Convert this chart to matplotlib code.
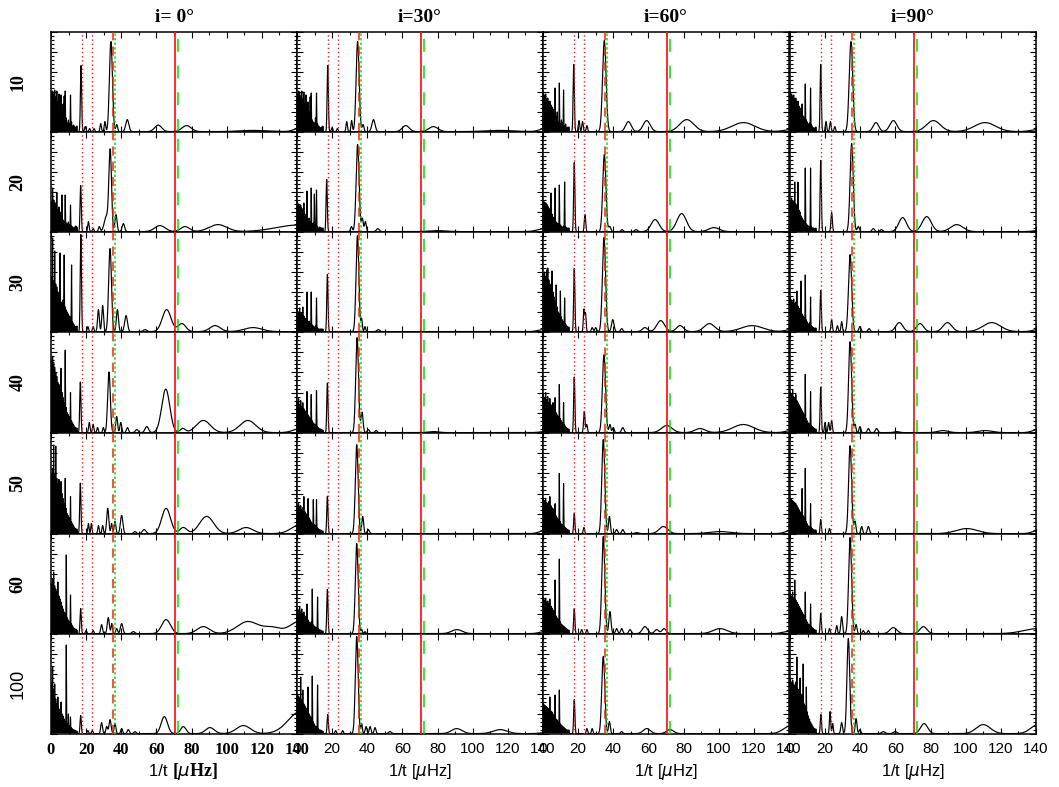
import numpy as np
import matplotlib
matplotlib.use('Agg')
import matplotlib.pyplot as plt
from matplotlib.ticker import MultipleLocator

# ---------------- data ----------------
col_titles = ['i= 0°', 'i=30°', 'i=60°', 'i=90°']
row_labels = ['10', '20', '30', '40', '50', '60', '100']
xtick_vals = [0, 20, 40, 60, 80, 100, 120, 140]
xlabel_text = '1/t'

# reference frequencies (μHz)
red_dotted = [17.7, 23.5]
red_dashed = 35.4
green_dotted = 36.3
red_solid = 70.5
green_dashed = 72.3

# low-frequency forest: spike heights (percent of panel) at these frequencies
forest_x = [0.3, 0.9, 1.5, 2.1, 2.7, 3.3, 3.9, 4.5, 5.1, 5.7, 6.3, 6.9, 7.5,
            8.1, 8.7, 9.3, 9.9, 10.5, 11.1, 11.7, 12.3, 12.9, 13.5, 14.1, 14.7]

forest_r10 = [
    [40, 41, 38, 42, 35, 41, 30, 38, 26, 37, 22, 28, 36, 41, 14, 9, 12, 8, 37, 10, 6, 7, 5, 5, 6],
    [38, 41, 40, 36, 41, 33, 40, 28, 37, 24, 30, 20, 35, 39, 12, 10, 9, 14, 39, 8, 6, 5, 4, 5, 6],
    [40, 37, 38, 33, 34, 30, 31, 27, 25, 23, 18, 44, 15, 20, 10, 49, 8, 12, 9, 42, 6, 8, 4, 5, 5],
    [40, 38, 36, 37, 33, 34, 30, 31, 26, 24, 22, 28, 16, 14, 48, 12, 10, 8, 9, 44, 7, 5, 4, 4, 5],
]
forest_r20 = [
    [30, 44, 32, 30, 28, 39, 22, 25, 20, 18, 37, 12, 10, 37, 9, 8, 10, 7, 27, 6, 5, 4, 5, 6, 5],
    [30, 28, 26, 27, 24, 22, 29, 18, 15, 41, 12, 14, 10, 44, 8, 9, 38, 7, 42, 5, 4, 5, 4, 4, 4],
    [31, 30, 29, 28, 26, 24, 22, 39, 18, 15, 13, 44, 10, 9, 8, 47, 7, 6, 5, 6, 50, 5, 4, 4, 4],
    [30, 34, 31, 30, 50, 28, 26, 50, 22, 20, 16, 14, 12, 10, 64, 8, 7, 6, 5, 64, 5, 4, 4, 3, 4],
]
forest_r30 = [
    [55, 94, 50, 81, 48, 45, 40, 38, 79, 30, 28, 32, 77, 25, 22, 20, 18, 16, 15, 67, 10, 8, 6, 5, 6],
    [22, 20, 24, 18, 19, 25, 16, 14, 12, 40, 10, 11, 8, 40, 7, 6, 5, 6, 34, 4, 3, 3, 3, 3, 3],
    [58, 60, 55, 62, 64, 52, 48, 45, 61, 40, 35, 30, 47, 25, 20, 18, 41, 15, 12, 10, 34, 8, 6, 5, 5],
    [34, 32, 30, 33, 28, 30, 41, 26, 24, 22, 51, 18, 16, 14, 57, 12, 10, 8, 9, 35, 6, 5, 4, 4, 4],
]
forest_r40 = [
    [72, 76, 70, 65, 60, 56, 50, 48, 45, 64, 40, 35, 30, 82, 25, 20, 18, 16, 40, 12, 10, 8, 6, 5, 5],
    [30, 34, 28, 32, 26, 30, 24, 22, 20, 41, 18, 16, 14, 38, 12, 10, 9, 8, 42, 6, 5, 4, 4, 3, 3],
    [38, 35, 40, 33, 36, 30, 34, 28, 26, 30, 24, 35, 20, 18, 16, 48, 14, 12, 10, 30, 8, 6, 5, 4, 4],
    [40, 38, 42, 36, 35, 38, 32, 30, 28, 26, 24, 22, 20, 18, 58, 14, 12, 10, 9, 41, 7, 6, 5, 4, 4],
]
forest_r50 = [
    [60, 65, 88, 60, 87, 55, 50, 54, 45, 52, 40, 35, 30, 55, 25, 20, 18, 16, 37, 12, 10, 8, 6, 5, 5],
    [28, 30, 26, 28, 24, 26, 37, 22, 20, 18, 35, 16, 14, 12, 10, 34, 9, 8, 34, 6, 5, 4, 4, 3, 3],
    [35, 33, 34, 31, 30, 32, 37, 28, 26, 25, 22, 30, 18, 16, 14, 60, 12, 10, 9, 50, 7, 6, 5, 4, 4],
    [35, 34, 33, 32, 31, 30, 28, 26, 24, 22, 20, 45, 18, 16, 65, 12, 10, 8, 7, 30, 6, 5, 4, 4, 4],
]
forest_r60 = [
    [50, 55, 62, 48, 45, 42, 52, 38, 35, 32, 28, 25, 22, 20, 79, 16, 14, 12, 39, 10, 8, 6, 5, 5, 4],
    [26, 24, 27, 22, 25, 20, 22, 18, 16, 30, 14, 12, 10, 12, 45, 9, 8, 7, 6, 37, 5, 4, 4, 3, 3],
    [36, 34, 35, 32, 33, 30, 35, 28, 26, 24, 22, 54, 18, 16, 14, 75, 12, 10, 9, 8, 7, 6, 5, 4, 4],
    [40, 38, 42, 36, 54, 34, 32, 30, 28, 26, 24, 22, 20, 18, 42, 14, 12, 10, 9, 30, 7, 6, 5, 4, 4],
]
forest_r100 = [
    [50, 67, 45, 50, 35, 30, 37, 25, 22, 32, 20, 18, 15, 12, 89, 10, 20, 8, 17, 6, 5, 4, 4, 3, 3],
    [40, 38, 36, 57, 34, 44, 30, 28, 26, 24, 47, 20, 18, 16, 58, 12, 10, 8, 7, 49, 5, 4, 4, 3, 3],
    [30, 29, 28, 27, 26, 25, 37, 23, 22, 20, 18, 39, 15, 14, 12, 44, 10, 9, 8, 7, 6, 5, 4, 4, 4],
    [55, 52, 54, 50, 48, 52, 77, 45, 42, 56, 40, 38, 70, 30, 28, 47, 22, 18, 15, 12, 10, 8, 6, 5, 5],
]

# resolved peaks: (frequency, height as fraction of panel, width)
peaks_r10 = [
    [(17.1, .66, .35), (19.5, .05, .4), (22, .03, .4), (24.5, .03, .4), (28.3, .08, .4), (30.7, .10, .4),
     (34.1, .90, .85), (37.4, .07, .5), (43.4, .12, .9), (61.0, .065, 2.0), (77.2, .06, 2.6), (115, .012, 8), (141, .03, 3)],
    [(17.5, .66, .35), (20, .04, .4), (23, .03, .4), (28.3, .10, .4), (31.1, .11, .4), (34.5, .90, .85),
     (37.6, .07, .5), (43.5, .12, .9), (61.9, .06, 2.0), (77.6, .05, 2.6), (115, .012, 8), (141, .03, 3)],
    [(17.5, .67, .35), (20.5, .11, .4), (22.5, .10, .4), (25, .06, .4), (34.9, .91, 1.0), (48.6, .10, 1.6),
     (59.0, .11, 2.0), (81.8, .12, 4.0), (114, .09, 6.5), (141, .02, 4)],
    [(17.5, .67, .35), (20.5, .10, .4), (23, .10, .4), (25.5, .05, .4), (34.7, .90, 1.0), (48.9, .09, 1.6),
     (58.8, .11, 2.0), (81.6, .11, 4.0), (111, .09, 6.0), (141, .02, 4)],
]
peaks_r20 = [
    [(16.9, .46, .35), (21.3, .10, .4), (24.0, .03, .4), (27.5, .05, .5), (31.5, .15, 1.2), (33.7, .80, .75),
     (37.0, .17, .6), (41.2, .08, .7), (62, .06, 3), (76.3, .05, 2.5), (95, .07, 5), (140, .065, 12)],
    [(16.9, .52, .35), (31, .05, .5), (34.5, .87, .85), (37.2, .13, .5), (38.9, .10, .5), (46, .03, .8),
     (80, .01, 5), (141, .03, 4)],
    [(17.8, .69, .35), (23.9, .17, .4), (34.9, .77, .9), (38, .05, .6), (45, .02, .6), (53, .02, .8),
     (63.8, .12, 2.3), (78.9, .18, 2.7), (97.3, .04, 3)],
    [(17.5, .71, .35), (23.7, .19, .4), (35.1, .88, .9), (38.9, .05, .6), (47.4, .03, .7), (52, .02, .7),
     (64.1, .14, 2.2), (77.8, .15, 2.6), (94.9, .07, 3.5), (141, .01, 3)],
]
peaks_r30 = [
    [(17.0, .97, .35), (21, .05, .4), (24, .05, .4), (27, .22, .5), (29.4, .26, .5), (33.6, .83, .8),
     (37.8, .22, .6), (42.7, .16, .8), (53.5, .02, 1), (65.8, .22, 2.5), (74.5, .08, 2.2), (93.4, .06, 3), (115, .04, 5)],
    [(17.3, .57, .35), (34.4, .96, .8), (36.8, .12, .4), (38.7, .05, .4), (46.3, .02, .8), (140, .02, 3)],
    [(17.8, .63, .35), (23.3, .22, .35), (24.2, .18, .35), (28, .04, .5), (30, .04, .5), (34.7, .94, .9),
     (39.7, .12, .7), (44.8, .03, .6), (58, .04, 1.5), (67, .11, 2.2), (78, .06, 2), (94.7, .08, 3), (119, .06, 6), (141, .02, 3)],
    [(17.5, .41, .35), (23.7, .12, .4), (27, .06, .4), (29.4, .10, .4), (34.2, .77, .9), (39.8, .05, .6),
     (45, .03, .6), (62.2, .09, 2.0), (74, .08, 2.0), (89.6, .09, 2.5), (114.8, .09, 5), (141, .02, 3)],
]
peaks_r40 = [
    [(16.7, .50, .35), (21.8, .10, .4), (24, .08, .4), (26.5, .05, .4), (29.8, .05, .4), (33.0, .60, .75),
     (37.4, .16, .5), (39.7, .10, .5), (43.5, .05, .6), (48.8, .03, .8), (54.5, .06, 1.0), (65.3, .43, 2.3),
     (75, .04, 1.5), (86.7, .12, 4), (112, .12, 4.5), (142, .04, 4)],
    [(17.3, .49, .35), (34.2, .94, .8), (37.0, .20, .6), (40.6, .03, .6), (45, .02, .6), (77.6, .01, 3), (141, .01, 3)],
    [(17.8, .55, .35), (23.5, .21, .4), (24.9, .08, .4), (34.7, .77, .9), (38.1, .08, .5), (40, .05, .5),
     (45.4, .05, .7), (70.4, .07, 3), (89.4, .04, 3), (114, .08, 6), (141, .02, 3)],
    [(17.5, .45, .35), (20, .10, .4), (22, .10, .4), (23.7, .12, .4), (34.2, .90, .85), (37, .08, .5),
     (39.8, .06, .5), (44.6, .04, .6), (49.3, .04, .7), (60.7, .01, 1.5), (87, .02, 3), (111, .02, 4), (141, .03, 3)],
]
peaks_r50 = [
    [(16.7, .50, .35), (21.3, .10, .35), (23, .10, .35), (27, .08, .4), (29.4, .08, .4), (32.3, .25, .6),
     (34.5, .10, .4), (36.4, .12, .5), (40.2, .18, .7), (47.8, .02, .7), (53, .04, 1), (65.5, .25, 2.5),
     (75.3, .06, 2), (88.6, .17, 4), (111, .06, 4), (142, .09, 5)],
    [(17.3, .37, .35), (34.0, .88, .8), (37.4, .17, .5), (40.6, .04, .6), (141, .03, 3)],
    [(17.8, .20, .35), (23.3, .06, .4), (34.3, .93, .85), (37.8, .17, .5), (41.9, .04, .6), (45.4, .04, .6),
     (53.3, .01, 1), (68.5, .07, 2.5), (100.8, .02, 6), (141, .03, 3)],
    [(17.5, .14, .35), (22.5, .05, .4), (34.2, .87, .85), (37, .12, .5), (40.8, .07, .5), (44.6, .07, .6),
     (100.6, .05, 6), (141, .03, 3)],
]
peaks_r60 = [
    [(16.9, .25, .35), (20, .03, .4), (24, .03, .4), (28.8, .09, .5), (32.6, .16, .6), (34.6, .10, .4),
     (37.4, .05, .5), (40.2, .10, .7), (46.9, .02, .8), (65.5, .14, 2.5), (86.7, .07, 3.5), (112, .12, 6),
     (126, .06, 5), (141, .12, 5)],
    [(17.3, .44, .35), (34.0, .90, .8), (36.8, .04, .4), (38.7, .02, .4), (91, .04, 3), (141, .02, 3)],
    [(17.8, .25, .35), (22, .04, .4), (25, .04, .4), (34.3, .97, .85), (38.1, .22, .6), (41.9, .05, .6),
     (44.8, .05, .6), (49.5, .04, .7), (58, .07, 1.5), (64.7, .04, 1.2), (68.9, .05, 1.2), (100.8, .05, 4), (139, .02, 3)],
    [(17.5, .20, .35), (22.5, .05, .4), (26.6, .08, .4), (29.4, .17, .5), (34.2, .96, .85), (37.6, .09, .5),
     (41.7, .03, .5), (44.6, .03, .5), (58.8, .06, 2), (75.9, .07, 2), (141, .05, 8)],
]
peaks_r100 = [
    [(16.9, .18, .35), (21, .03, .4), (23.5, .03, .4), (28.8, .11, .5), (31.7, .07, .5), (33.6, .14, .6),
     (36.4, .10, .5), (40.2, .05, .5), (44, .04, .6), (47.8, .02, .6), (64.5, .17, 1.8), (75.3, .07, 1.5),
     (90.5, .06, 2.5), (109.5, .08, 4), (142, .22, 7)],
    [(17.5, .19, .35), (22, .03, .4), (26, .03, .4), (34.0, .97, .8), (36.8, .10, .4), (39.3, .07, .5),
     (41.6, .07, .5), (44.4, .06, .5), (52.9, .02, .8), (90.9, .05, 3), (115.6, .04, 4), (141, .01, 3)],
    [(17.8, .34, .35), (25, .05, .4), (28, .05, .4), (34.3, .77, .85), (37.8, .12, .5), (44.8, .02, .6),
     (59, .05, 2), (72.3, .04, 2), (141, .08, 4)],
    [(17.6, .19, .35), (22.8, .22, .35), (24.3, .10, .35), (29.4, .11, .5), (33.2, .95, .8), (37.6, .15, .5),
     (39.8, .04, .5), (53.1, .02, 1), (59.8, .02, 1), (76.3, .10, 2), (110, .09, 4), (141, .09, 4)],
]

forests = [forest_r10, forest_r20, forest_r30, forest_r40, forest_r50, forest_r60, forest_r100]
peaks = [peaks_r10, peaks_r20, peaks_r30, peaks_r40, peaks_r50, peaks_r60, peaks_r100]

# ---------------- layout ----------------
W, H = 1059, 787
col_left = [51, 297, 543, 790]
col_w = 246
row_top = [32, 132, 232, 332, 433, 534, 634, 734]

RED = '#ff1a1a'
GREEN = '#00e000'

fig = plt.figure(figsize=(W / 100, H / 100), dpi=100)


def build_curve(fvals, plist):
    fx = np.array(forest_x)
    fh = np.array(fvals) / 100.0
    xs = np.empty(2 * len(fx))
    ys = np.empty(2 * len(fx))
    xs[0::2] = fx
    xs[1::2] = fx + 0.3
    ys[0::2] = fh
    ys[1::2] = 0.01
    xs = np.concatenate([[0.0], xs])
    ys = np.concatenate([[fh[0]], ys])
    gx = np.arange(xs[-1] + 0.1, 140.0001, 0.1)
    gy = np.full_like(gx, 0.004)
    for c, h, w in plist:
        gy += h * np.exp(-0.5 * ((gx - c) / w) ** 2)
    return np.concatenate([xs, gx]), np.concatenate([ys, gy])


for r in range(7):
    for c in range(4):
        top = row_top[r]
        bot = row_top[r + 1]
        ax = fig.add_axes([col_left[c] / W, 1 - bot / H, col_w / W, (bot - top) / H])
        x, y = build_curve(forests[r][c], peaks[r][c])
        ax.plot(x, y, color='black', lw=0.85, zorder=2)
        for v in red_dotted:
            ax.axvline(v, color=RED, lw=1.0, ls=(0, (1, 2)), zorder=3)
        ax.axvline(red_dashed, color=RED, lw=1.1, ls=(0, (6, 4)), zorder=3)
        ax.axvline(green_dotted, color=GREEN, lw=1.1, ls=(0, (1.5, 1.5)), zorder=3)
        ax.axvline(red_solid, color=RED, lw=1.3, zorder=3)
        ax.axvline(green_dashed, color=GREEN, lw=1.1, ls=(0, (8.5, 9)), zorder=3)
        ax.set_xlim(0, 140)
        ax.set_ylim(0, 1)
        ax.xaxis.set_major_locator(MultipleLocator(20))
        ax.xaxis.set_minor_locator(MultipleLocator(10))
        ax.yaxis.set_major_locator(MultipleLocator(0.2))
        ax.yaxis.set_minor_locator(MultipleLocator(0.04))
        ax.tick_params(which='both', direction='in', top=True, right=True,
                       width=0.8, colors='black')
        ax.tick_params(which='major', length=4.5)
        ax.tick_params(which='minor', length=2.2)
        ax.set_yticklabels([])
        for s in ax.spines.values():
            s.set_linewidth(1.1)
        if r == 6:
            ax.set_xticks(xtick_vals)
            if c == 0:
                ax.set_xticklabels([str(v) for v in xtick_vals],
                                   fontfamily='Liberation Serif', fontweight='bold', fontsize=12)
            else:
                ax.set_xticklabels([str(v) for v in xtick_vals],
                                   fontfamily='Liberation Sans', fontsize=11)
            ax.tick_params(axis='x', which='major', pad=6)
        else:
            ax.set_xticklabels([])

# column titles
for c in range(4):
    fig.text((col_left[c] + col_w / 2) / W, 1 - 18 / H, col_titles[c],
             ha='center', va='center', fontfamily='Liberation Serif',
             fontweight='bold', fontsize=14)

# row labels
for r in range(7):
    yc = (row_top[r] + row_top[r + 1]) / 2
    if row_labels[r] == '100':
        fig.text(18 / W, 1 - yc / H, row_labels[r], rotation=90, ha='center', va='center',
                 fontfamily='Liberation Sans', fontsize=13)
    else:
        fig.text(18 / W, 1 - yc / H, row_labels[r], rotation=90, ha='center', va='center',
                 fontfamily='Liberation Serif', fontweight='bold', fontsize=13)

# x labels
ylab = 1 - 772 / H
for c in range(4):
    xc = (col_left[c] + col_w / 2) / W
    if c == 0:
        fig.text(xc - 2 / W, ylab, xlabel_text + ' ', ha='right', va='center',
                 fontfamily='Liberation Sans', fontsize=12)
        fig.text(xc - 2 / W, ylab, '[$\\mu$Hz]', ha='left', va='center',
                 fontfamily='Liberation Serif', fontweight='bold', fontsize=13)
    else:
        fig.text(xc, ylab, xlabel_text + ' [$\\mu$Hz]', ha='center', va='center',
                 fontfamily='Liberation Sans', fontsize=12)

fig.savefig('out.png', dpi=100)
